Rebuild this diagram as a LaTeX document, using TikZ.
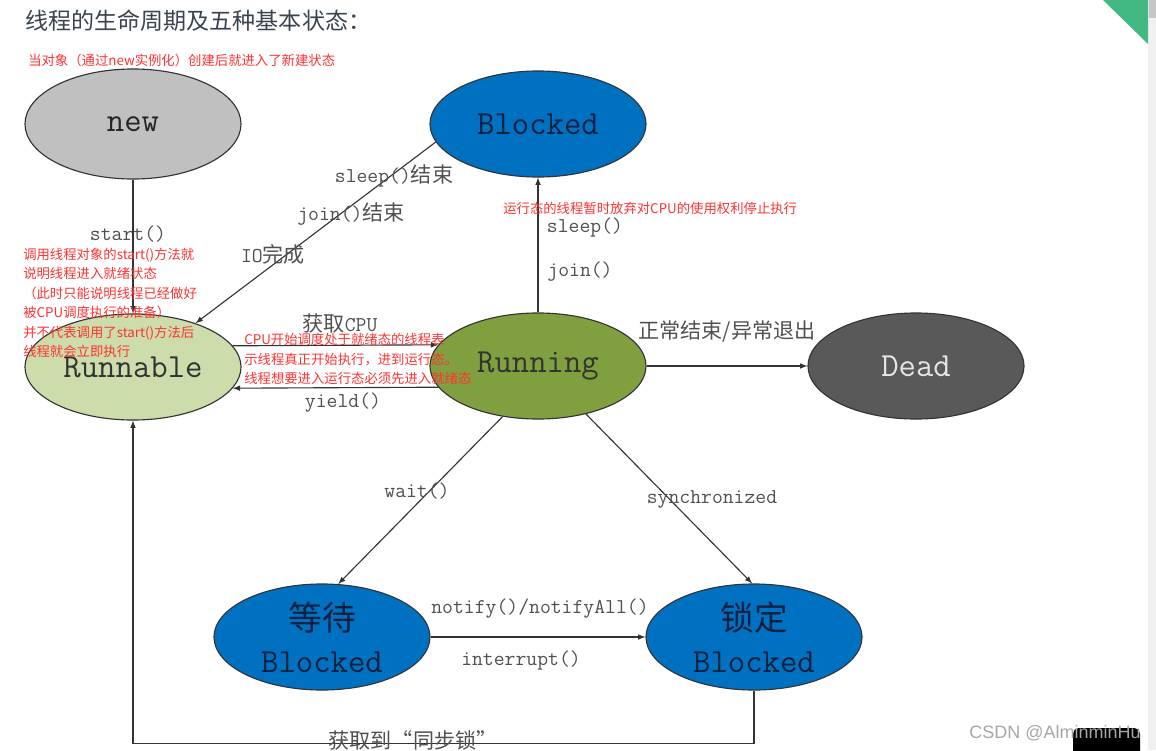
\documentclass[tikz,border=0pt]{standalone}
\usepackage{fontspec}
\newfontfamily\cjk{Noto Sans CJK SC}
\newfontfamily\wmfont{Liberation Sans}
\usetikzlibrary{shapes,arrows,positioning,calc}
\definecolor{linec}{RGB}{51,51,51}
\definecolor{lblc}{RGB}{80,80,80}
\definecolor{notec}{RGB}{255,51,51}
\definecolor{newc}{RGB}{192,192,192}
\definecolor{blockc}{RGB}{0,112,192}
\definecolor{runnc}{RGB}{204,220,170}
\definecolor{runc}{RGB}{128,160,64}
\definecolor{deadc}{RGB}{89,89,89}
\definecolor{navyc}{RGB}{16,32,64}
\definecolor{titlec}{RGB}{58,67,80}
\definecolor{vuec}{RGB}{66,185,131}

\begin{document}
\begin{tikzpicture}[x=0.025cm,y=-0.025cm,
    state/.style={ellipse,draw=linec,line width=0.8pt,minimum width=5.4cm,minimum height=2.65cm,
      inner sep=0pt,align=center,font=\ttfamily\fontsize{24}{30}\selectfont},
    arr/.style={-latex,draw=linec,line width=0.8pt},
    lbl/.style={text=lblc,inner sep=1pt,font=\ttfamily\fontsize{15}{16}\selectfont},
    note/.style={text=notec,anchor=west,inner sep=0pt,align=left,font=\cjk\fontsize{9.5}{13.9}\selectfont}]
        \useasboundingbox (0,0) rectangle (1156,750);
        \fill[gray!12] (1148,0) rectangle (1156,750);
        \fill[gray!45] (1149,0) rectangle (1156,18);
        \fill[vuec] (1103,0) -- (1148,0) -- (1148,44) -- cycle;
        \fill[black,rounded corners=4pt] (1073,728) rectangle (1140,765);
        \node[anchor=west,inner sep=0pt,text=titlec,font=\cjk\fontsize{16.4}{18}\selectfont] (title) at (25,21) {线程的生命周期及五种基本状态：};
        \node[state,fill=newc,text=black!85,minimum height=2.75cm] (new) at (133,124) {new};
        \node[state,fill=blockc,text=navyc] (blocked) at (538,124) {Blocked};
        \node[state,fill=runnc,text=black!80] (runnable) at (133,367) {Runnable};
        \node[state,fill=runc,text=black!80] (running) at (538,366) {Running};
        \node[state,fill=deadc,text=white!90!black] (dead) at (916,366) {Dead};
        \node[state,fill=blockc,text=navyc] (waiting) at (322,637) {{\cjk 等待}\\Blocked};
        \node[state,fill=blockc,text=navyc] (locked) at (754,637) {{\cjk 锁定}\\Blocked};
        \draw[arr] (new) -- (runnable);
        \draw[arr] (blocked.190) -- (runnable.35);
        \draw[arr] (runnable.12) -- (running.168);
        \draw[arr] (running.192) -- (runnable.-12);
        \draw[arr] (running) -- (blocked);
        \draw[arr] (running) -- (dead);
        \draw[arr] (running.235) -- (waiting.73);
        \draw[arr] (running.-45) -- (locked.92);
        \draw[arr] (waiting) -- (locked);
        \draw[arr] (locked.south) -- ++(0,53) -| (runnable.south);
        {
          \node[lbl] (lstart) at (128,234) {start()};
          \node[lbl] (lsleepend) at (394,176) {sleep(){\cjk 结束}};
          \node[lbl] (ljoinend) at (351,214) {join(){\cjk 结束}};
          \node[lbl] (lio) at (273,254) {IO{\cjk 完成}};
          \node[lbl] (lcpu) at (340,323) {{\cjk 获取}CPU};
          \node[lbl] (lyield) at (343,403) {yield()};
          \node[lbl] (lsleep) at (585,228) {sleep()};
          \node[lbl] (ljoin) at (580,272) {join()};
          \node[lbl] (lend) at (727,332) {{\cjk 正常结束/异常退出}};
          \node[lbl] (lwait) at (417,491) {wait()};
          \node[lbl] (lsync) at (712,499) {synchronized};
          \node[lbl] (lnotify) at (540,609) {notify()/notifyAll()};
          \node[lbl] (lint) at (521,661) {interrupt()};
          \node[lbl] (llock) at (413,740) {{\cjk 获取到“同步锁”}};
        }
        \node[note] (nnew) at (28,60) {当对象（通过new实例化）创建后就进入了新建状态};
        \node[note] (nstart) at (23,303) {调用线程对象的start()方法就\\说明线程进入就绪状态\\（此时只能说明线程已经做好\\被CPU调度执行的准备）\\并不代表调用了start()方法后\\线程就会立即执行};
        \node[note] (ncpu) at (244,359) {CPU开始调度处于就绪态的线程表\\示线程真正开始执行，进到运行态。\\线程想要进入运行态必须先进入就绪态};
        \node[note] (nblock) at (503,208) {运行态的线程暂时放弃对CPU的使用权利停止执行};
        \node[anchor=east,inner sep=0pt,text=gray!70,font=\wmfont\fontsize{12.8}{14}\selectfont] (mark) at (1141,733) {CSDN @AlminminHu};
      \end{tikzpicture}
\end{document}
